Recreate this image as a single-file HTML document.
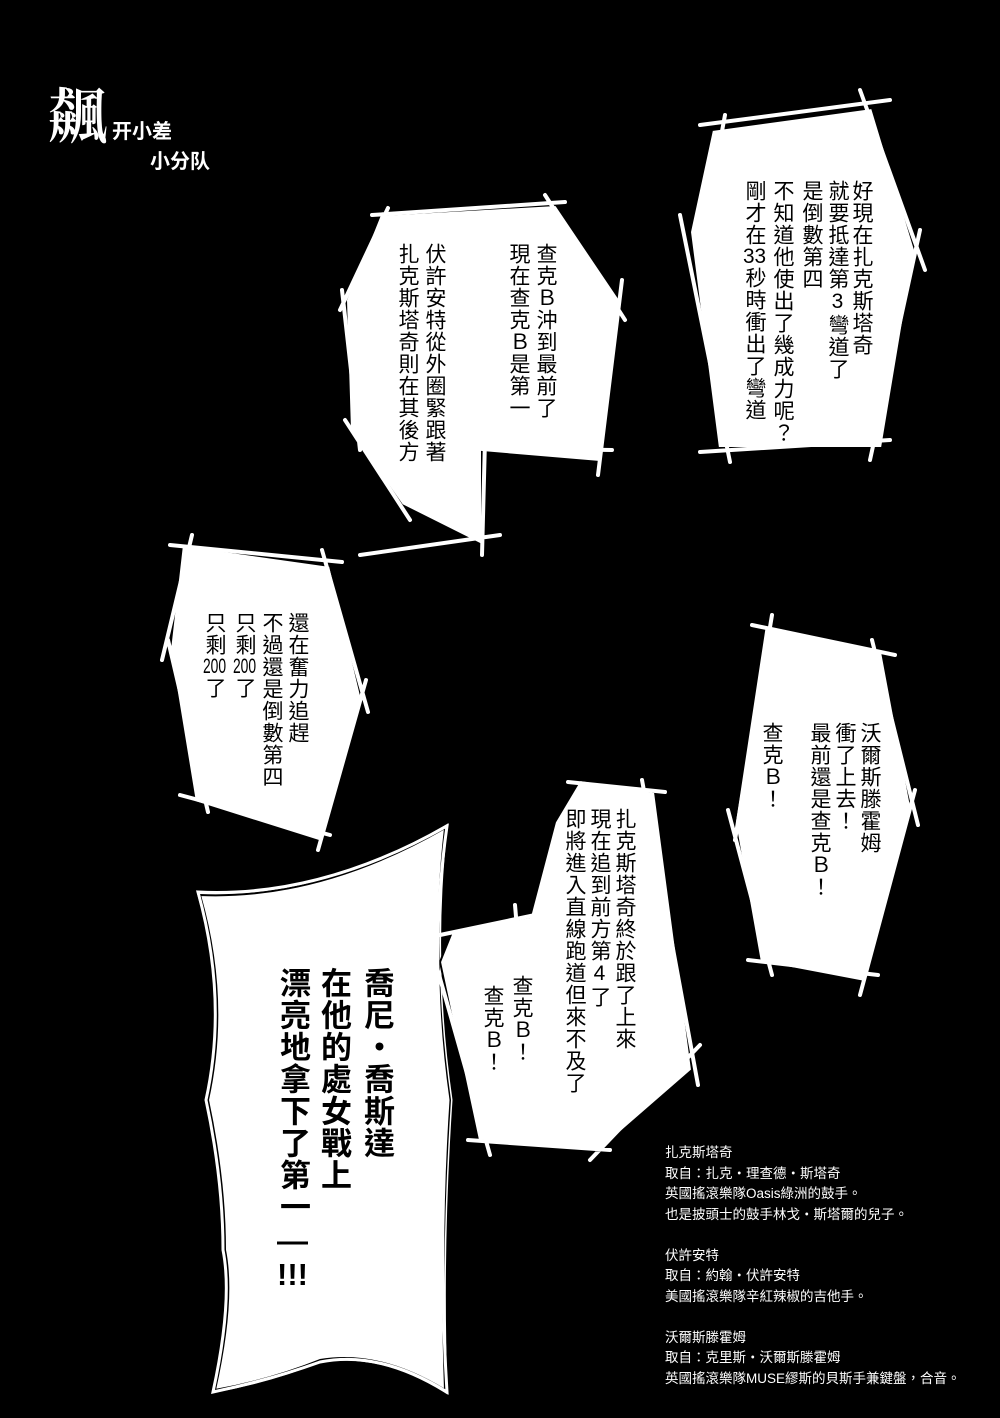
<!DOCTYPE html>
<html><head><meta charset="utf-8"><style>
body{margin:0;background:#000;}
#p{position:relative;width:1000px;height:1418px;background:#000;overflow:hidden;font-family:"Liberation Sans","Noto Sans CJK TC",sans-serif;}
.c{position:absolute;writing-mode:vertical-rl;text-orientation:upright;color:#000;font-size:21px;line-height:1;white-space:nowrap;letter-spacing:1px;}
.t{text-combine-upright:all;}
.b{font-weight:bold;font-size:31px;letter-spacing:1px;}
.n{position:absolute;left:665px;top:1143px;color:#fff;font-size:13.5px;line-height:20.5px;white-space:nowrap;}
</style></head><body><div id="p">
<svg width="1000" height="1418" style="position:absolute;left:0;top:0">
<g fill="#fff" stroke="#000" stroke-width="2">
<path d="M200,895 Q320,900 445,828 Q430,960 450,1100 Q440,1250 445,1390 Q380,1350 320,1360 Q270,1380 215,1390 Q235,1300 225,1250 Q225,1180 208,1100 Q230,1000 200,895Z" stroke="#fff" stroke-width="5" fill="#fff"/>
<path d="M200,895 Q320,900 445,828 Q430,960 450,1100 Q440,1250 445,1390 Q380,1350 320,1360 Q270,1380 215,1390 Q235,1300 225,1250 Q225,1180 208,1100 Q230,1000 200,895Z" stroke="#000" stroke-width="2" fill="#fff"/>
<polygon points="712,130 872,108 915,250 882,448 718,448 690,232"/>
<polygon points="380,215 556,205 620,300 600,462 482,452 482,545 402,505 350,430 346,300"/>
<polygon points="182,545 330,566 362,700 322,842 195,802 170,650"/>
<polygon points="765,625 882,652 912,812 865,982 760,962 735,822"/>
<polygon points="580,780 655,792 692,1070 600,1150 478,1140 440,962 452,932 530,917 555,822"/>
</g>
<g stroke="#fff" stroke-width="4" fill="none" stroke-linecap="round">
<path d="M700,125 L890,100 M860,90 L925,270 M920,230 L870,460 M890,440 L700,452 M730,462 L680,215 M700,250 L725,115"/>
<path d="M372,215 L565,202 M545,195 L625,320 M622,280 L598,475 M612,450 L470,448 M485,440 L482,555 M500,535 L360,555 M410,520 L345,420 M360,450 L342,290 M340,310 L388,208"/>
<path d="M170,545 L342,562 M322,550 L368,712 M366,680 L318,850 M330,835 L180,795 M208,812 L168,640 M162,660 L192,535"/>
<path d="M752,625 L895,655 M872,640 L918,825 M915,790 L860,995 M878,975 L748,960 M772,975 L728,810 M735,840 L772,615"/>
<path d="M568,782 L665,792 M642,780 L698,1085 M700,1045 L590,1160 M610,1150 L468,1140 M490,1155 L432,950 M440,935 L540,914 M515,905 L518,940 M540,910 L565,815"/>
<path d="M198,892 Q320,898 447,826 Q428,960 448,1100 Q438,1250 447,1392 Q380,1350 320,1362 Q270,1380 213,1392 Q233,1300 223,1250 Q223,1180 206,1100 Q228,1000 198,892Z" stroke-width="3"/>
</g>
</svg>
<div style="position:absolute;left:48px;top:70px;color:#fff;font:bold 60px 'Noto Serif CJK SC',serif;">飆</div>
<div style="position:absolute;left:112px;top:115px;color:#fff;font:bold 20px 'Noto Sans CJK SC',sans-serif;">开小差</div>
<div style="position:absolute;left:150px;top:145px;color:#fff;font:bold 20px 'Noto Sans CJK SC',sans-serif;">小分队</div>

<div class="c" style="left:851px;top:180px">好現在扎克斯塔奇</div>
<div class="c" style="left:827px;top:180px">就要抵達第3彎道了</div>
<div class="c" style="left:801px;top:180px">是倒數第四</div>
<div class="c" style="left:772px;top:180px">不知道他使出了幾成力呢？</div>
<div class="c" style="left:744px;top:180px">剛才在<span class="t">33</span>秒時衝出了彎道</div>

<div class="c" style="left:535px;top:243px">查克Ｂ沖到最前了</div>
<div class="c" style="left:508px;top:243px">現在查克Ｂ是第一</div>
<div class="c" style="left:424px;top:243px">伏許安特從外圈緊跟著</div>
<div class="c" style="left:397px;top:243px">扎克斯塔奇則在其後方</div>

<div class="c" style="left:287px;top:612px">還在奮力追趕</div>
<div class="c" style="left:261px;top:612px">不過還是倒數第四</div>
<div class="c" style="left:234px;top:612px">只剩<span class="t">200</span>了</div>
<div class="c" style="left:204px;top:612px">只剩<span class="t">200</span>了</div>

<div class="c" style="left:859px;top:722px">沃爾斯滕霍姆</div>
<div class="c" style="left:834px;top:722px">衝了上去！</div>
<div class="c" style="left:809px;top:722px">最前還是查克Ｂ！</div>
<div class="c" style="left:761px;top:722px">查克Ｂ！</div>

<div class="c" style="left:614px;top:808px">扎克斯塔奇終於跟了上來</div>
<div class="c" style="left:589px;top:808px">現在追到前方第4了</div>
<div class="c" style="left:564px;top:808px">即將進入直線跑道但來不及了</div>
<div class="c" style="left:511px;top:975px">查克Ｂ！</div>
<div class="c" style="left:482px;top:985px">查克Ｂ！</div>

<div class="c b" style="left:361px;top:967px">喬尼・喬斯達</div>
<div class="c b" style="left:318px;top:967px">在他的處女戰上</div>
<div class="c b" style="left:277px;top:967px">漂亮地拿下了第一—<span class="t">!!!</span></div>

<div class="n">扎克斯塔奇<br>取自：扎克・理查德・斯塔奇<br>英國搖滾樂隊Oasis綠洲的鼓手。<br>也是披頭士的鼓手林戈・斯塔爾的兒子。<br><br>伏許安特<br>取自：約翰・伏許安特<br>美國搖滾樂隊辛紅辣椒的吉他手。<br><br>沃爾斯滕霍姆<br>取自：克里斯・沃爾斯滕霍姆<br>英國搖滾樂隊MUSE繆斯的貝斯手兼鍵盤，合音。</div>
</div></body></html>
